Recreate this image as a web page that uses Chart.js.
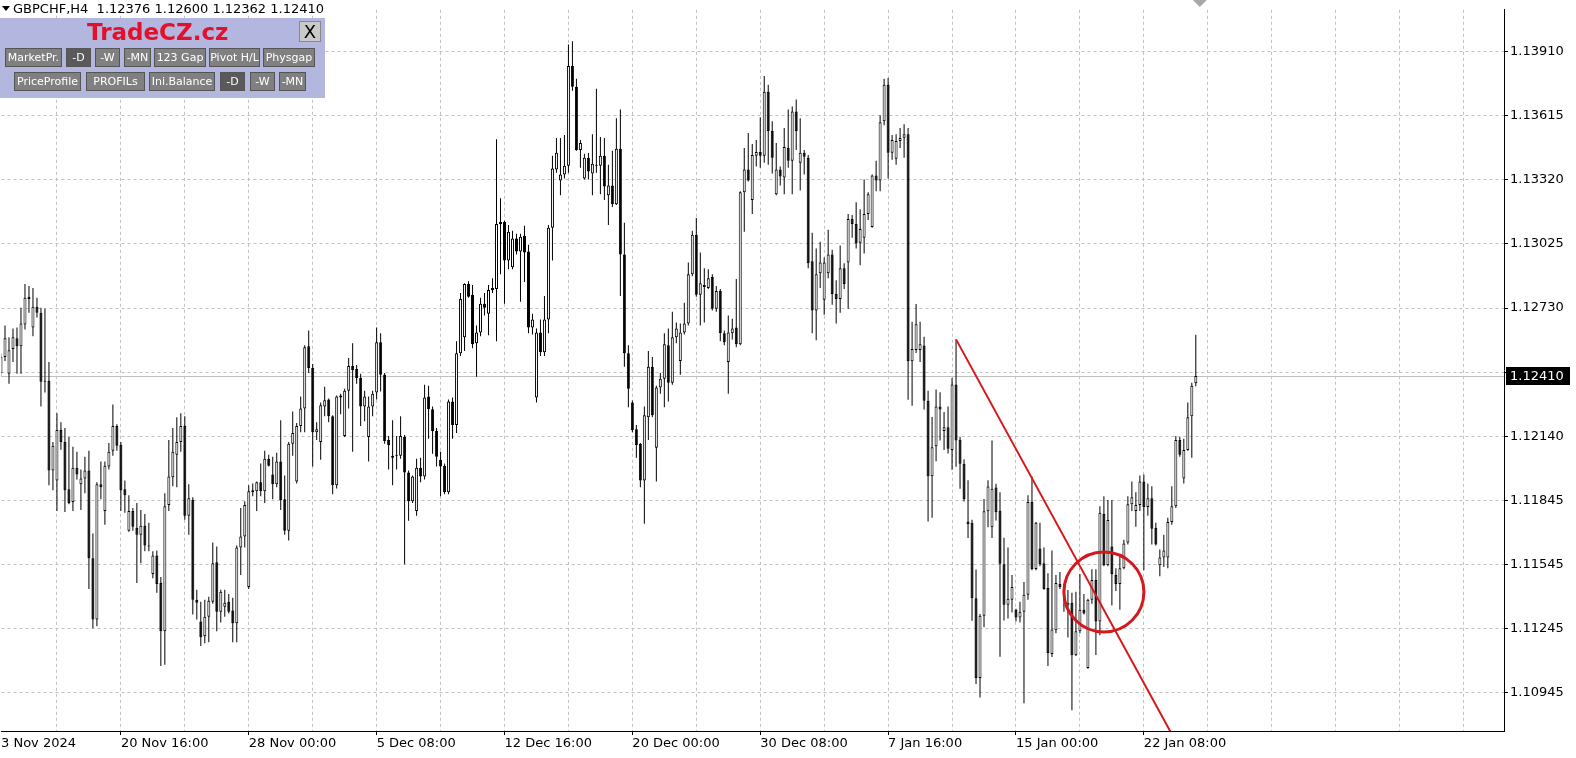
<!DOCTYPE html>
<html lang="en">
<head>
<meta charset="UTF-8">
<title>GBPCHF,H4</title>
<script src="https://cdn.jsdelivr.net/npm/chart.js"></script>
<style>
    body { margin: 0; background: #fff; overflow: hidden; font-family: "DejaVu Sans", sans-serif; }
    #wrap { position: relative; width: 1576px; height: 758px; }
    #chart { position: absolute; left: 0; top: 0; }
    #header { position: absolute; left: 13px; top: 1px; font-size: 13px; color: #000; white-space: pre; }
    #tri { position: absolute; left: 2px; top: 6px; width: 0; height: 0;
           border-left: 4px solid transparent; border-right: 4px solid transparent; border-top: 5px solid #000; }
    #panel { position: absolute; left: 0; top: 18px; width: 325px; height: 80px; background: #b3b7df; }
    #brand { position: absolute; left: 87px; top: 1px; color: #e3102c; font: bold 23px "DejaVu Sans", sans-serif; }
    #close { position: absolute; left: 299px; top: 3px; width: 22px; height: 21px; background: #c9c9c9;
             border: 1px solid #888; font: 18px "DejaVu Sans", sans-serif; text-align: center; line-height: 19px; box-sizing: border-box; }
    .btn { position: absolute; height: 19px; background: #808080; color: #fff; font-size: 11px; line-height: 17px;
           text-align: center; border: 1px solid #555; box-sizing: border-box; white-space: nowrap; }
    .dark { background: #5a5a5a; }
</style>
</head>
<body>
<div id="wrap">
    <canvas id="chart" width="1576" height="758"></canvas>
    <div id="tri"></div>
    <div id="header">GBPCHF,H4  1.12376 1.12600 1.12362 1.12410</div>
    <div id="panel">
        <div id="brand">TradeCZ.cz</div>
        <div id="close">X</div>
        <div class="btn" style="left:5px;top:30px;width:57px">MarketPr.</div>
        <div class="btn dark" style="left:66px;top:30px;width:25px">-D</div>
        <div class="btn" style="left:95px;top:30px;width:25px">-W</div>
        <div class="btn" style="left:124px;top:30px;width:27px">-MN</div>
        <div class="btn" style="left:154px;top:30px;width:52px">123 Gap</div>
        <div class="btn" style="left:209px;top:30px;width:51px">Pivot H/L</div>
        <div class="btn" style="left:263px;top:30px;width:52px">Physgap</div>
        <div class="btn" style="left:14px;top:54px;width:67px">PriceProfile</div>
        <div class="btn" style="left:86px;top:54px;width:59px">PROFILs</div>
        <div class="btn" style="left:149px;top:54px;width:66px">Ini.Balance</div>
        <div class="btn dark" style="left:220px;top:54px;width:25px">-D</div>
        <div class="btn" style="left:250px;top:54px;width:25px">-W</div>
        <div class="btn" style="left:279px;top:54px;width:27px">-MN</div>
    </div>
</div>

<script>
    // GBPCHF H4 bars (oldest first)
    const opens = [
        1.12424,1.12497,1.12420,1.12534,1.12584,1.12547,1.12648,1.12776,1.12634,1.12730,
        1.12702,1.12388,1.12388,1.11973,1.11927,1.12160,1.12105,1.11886,1.11827,1.11986,
        1.11909,1.11936,1.11973,1.11567,1.11284,1.11909,1.11786,1.11991,1.12064,1.12178,
        1.12091,1.11886,1.11694,1.11786,1.11708,1.11676,1.11717,1.11626,1.11494,1.11580,
        1.11452,1.11229,1.11813,1.11941,1.12046,1.12105,1.12178,1.11763,1.11836,1.11375,
        1.11275,1.11206,1.11297,1.11366,1.11548,1.11320,1.11343,1.11366,1.11325,1.11266,
        1.11617,1.11667,1.11434,1.11881,1.11877,1.11918,1.11877,1.12027,1.11954,1.11909,
        1.12014,1.11840,1.11694,1.12096,1.11922,1.12178,1.12260,1.12547,1.12447,1.12150,
        1.12105,1.12269,1.12301,1.12224,1.11904,1.12310,1.12132,1.12342,1.12456,1.12442,
        1.12401,1.12269,1.12128,1.12269,1.12333,1.12566,1.12415,1.12114,1.12032,1.12046,
        1.12041,1.12128,1.11963,1.11831,1.11786,1.11986,1.11945,1.12315,1.12256,1.12155,
        1.12023,1.11995,1.11872,1.12292,1.12183,1.12515,1.12589,1.12835,1.12785,1.12561,
        1.12611,1.12744,1.12698,1.12807,1.12812,1.13122,1.13122,1.12944,1.12912,1.13045,
        1.12985,1.13058,1.12985,1.12634,1.12310,1.12611,1.12520,1.12671,1.13095,1.13364,
        1.13314,1.13341,1.13382,1.13843,1.13747,1.13455,1.13323,1.13419,1.13346,1.13387,
        1.13382,1.13428,1.13245,1.13291,1.13204,1.13460,1.12972,1.12515,1.12287,1.12164,
        1.12096,1.11927,1.12219,1.12452,1.12078,1.12356,1.12397,1.12552,1.12379,1.12589,
        1.12479,1.12611,1.12652,1.12880,1.13063,1.12785,1.12830,1.12817,1.12867,1.12721,
        1.12803,1.12607,1.12474,1.12607,1.12634,1.12556,1.13259,1.13364,1.13223,1.13428,
        1.13446,1.13428,1.13724,1.13542,1.13250,1.13364,1.13327,1.13464,1.13405,1.13633,
        1.13396,1.13442,1.13419,1.12940,1.12712,1.12885,1.12762,1.12885,1.12972,1.12789,
        1.12766,1.12908,1.12935,1.13136,1.13113,1.13026,1.13049,1.13159,1.13099,1.13337,
        1.13314,1.13588,1.13756,1.13442,1.13414,1.13496,1.13511,1.13528,1.12478,1.12530,
        1.12530,1.12551,1.12295,1.11946,1.12085,1.12269,1.12155,1.12173,1.12068,1.12370,
        1.12115,1.12004,1.11737,1.11731,1.11382,1.11013,1.11301,1.11784,1.11710,1.11894,
        1.11787,1.11539,1.11352,1.11375,1.11329,1.11293,1.11320,1.11398,1.11827,1.11517,
        1.11612,1.11544,1.11430,1.11124,1.11234,1.11448,1.11352,1.11348,1.11361,1.11119,
        1.11229,1.11329,1.11060,1.11375,1.11466,1.11275,1.11772,1.11535,1.11621,1.11489,
        1.11448,1.11521,1.11640,1.11817,1.11786,1.11813,1.11922,1.11804,1.11845,1.11708,
        1.11535,1.11571,1.11571,1.11735,1.11808,1.12114,1.11936,1.12068,1.12224,1.12376
    ];
    const highs = [
        1.12515,1.12643,1.12589,1.12629,1.12634,1.12725,1.12835,1.12826,1.12817,1.12771,
        1.12725,1.12721,1.12474,1.12105,1.12237,1.12196,1.12169,1.12128,1.12082,1.12059,
        1.11977,1.12036,1.12064,1.11681,1.11918,1.12014,1.12014,1.12100,1.12278,1.12187,
        1.12105,1.11927,1.11858,1.11799,1.11822,1.11790,1.11772,1.11731,1.11599,1.11603,
        1.11480,1.11868,1.12114,1.12169,1.12219,1.12237,1.12224,1.11909,1.11849,1.11421,
        1.11366,1.11375,1.11389,1.11640,1.11621,1.11421,1.11421,1.11402,1.11384,1.11626,
        1.11799,1.11831,1.11904,1.11913,1.11922,1.12005,1.12064,1.12046,1.12036,1.12055,
        1.12205,1.11950,1.12105,1.12246,1.12192,1.12315,1.12552,1.12620,1.12465,1.12196,
        1.12287,1.12360,1.12306,1.12228,1.12319,1.12328,1.12351,1.12493,1.12561,1.12461,
        1.12420,1.12342,1.12315,1.12342,1.12634,1.12607,1.12424,1.12132,1.12205,1.12132,
        1.12224,1.12137,1.11973,1.11950,1.12027,1.12032,1.12369,1.12365,1.12269,1.12169,
        1.12059,1.12005,1.12301,1.12310,1.12570,1.12794,1.12839,1.12848,1.12830,1.12643,
        1.12771,1.12794,1.12830,1.12862,1.13505,1.13232,1.13127,1.13108,1.13081,1.13067,
        1.13067,1.13104,1.13017,1.12698,1.12629,1.12671,1.12780,1.13108,1.13428,1.13510,
        1.13510,1.13524,1.13943,1.13957,1.13784,1.13501,1.13437,1.13441,1.13528,1.13738,
        1.13515,1.13510,1.13387,1.13451,1.13601,1.13642,1.13118,1.12552,1.12296,1.12183,
        1.12100,1.12269,1.12525,1.12497,1.12365,1.12424,1.12607,1.12629,1.12707,1.12657,
        1.12652,1.12748,1.12935,1.13081,1.13140,1.12981,1.12908,1.12903,1.12880,1.12826,
        1.12812,1.12620,1.12689,1.12675,1.12858,1.13264,1.13464,1.13533,1.13483,1.13501,
        1.13606,1.13797,1.13756,1.13588,1.13487,1.13378,1.13556,1.13642,1.13656,1.13688,
        1.13601,1.13455,1.13432,1.13072,1.12999,1.13031,1.12958,1.13086,1.12994,1.12853,
        1.13013,1.12931,1.13159,1.13154,1.13213,1.13181,1.13318,1.13259,1.13341,1.13405,
        1.13615,1.13784,1.13788,1.13524,1.13528,1.13556,1.13574,1.13556,1.12661,1.12743,
        1.12661,1.12591,1.12342,1.12220,1.12347,1.12335,1.12243,1.12269,1.12400,1.12579,
        1.12129,1.12025,1.11928,1.11745,1.11515,1.11309,1.11841,1.11928,1.12112,1.11911,
        1.11872,1.11662,1.11617,1.11489,1.11334,1.11366,1.11457,1.11858,1.11945,1.11735,
        1.11731,1.11617,1.11498,1.11603,1.11489,1.11503,1.11412,1.11420,1.11407,1.11412,
        1.11494,1.11402,1.11380,1.11516,1.11516,1.11808,1.11854,1.11836,1.11836,1.11521,
        1.11580,1.11653,1.11854,1.11922,1.11872,1.11950,1.11954,1.11913,1.11900,1.11731,
        1.11608,1.11676,1.11754,1.11900,1.12132,1.12128,1.12119,1.12287,1.12379,1.12600
    ];
    const lows = [
        1.12406,1.12479,1.12374,1.12474,1.12420,1.12420,1.12625,1.12702,1.12593,1.12680,
        1.12269,1.12333,1.11904,1.11881,1.11786,1.12069,1.11781,1.11817,1.11786,1.11931,
        1.11790,1.11868,1.11425,1.11243,1.11252,1.11840,1.11722,1.11977,1.12041,1.12064,
        1.11786,1.11777,1.11690,1.11694,1.11452,1.11544,1.11599,1.11599,1.11475,1.11407,
        1.11069,1.11074,1.11786,1.11900,1.11895,1.12059,1.11745,1.11676,1.11307,1.11284,
        1.11161,1.11174,1.11179,1.11357,1.11229,1.11270,1.11297,1.11311,1.11179,1.11179,
        1.11489,1.11617,1.11425,1.11854,1.11786,1.11854,1.11822,1.11991,1.11840,1.11895,
        1.11790,1.11676,1.11649,1.12041,1.11913,1.12150,1.12150,1.12424,1.11991,1.12114,
        1.12023,1.12224,1.12196,1.11863,1.11890,1.12233,1.12128,1.12260,1.12059,1.12374,
        1.12178,1.12201,1.12014,1.12224,1.12301,1.12338,1.12096,1.11977,1.11904,1.11977,
        1.12027,1.11539,1.11740,1.11822,1.11763,1.11918,1.11931,1.12119,1.12050,1.11991,
        1.11854,1.11863,1.11863,1.12119,1.12146,1.12502,1.12525,1.12771,1.12538,1.12406,
        1.12593,1.12689,1.12598,1.12794,1.12570,1.12880,1.12744,1.12903,1.12903,1.12972,
        1.12753,1.12844,1.12607,1.12602,1.12287,1.12502,1.12502,1.12607,1.12944,1.13350,
        1.13245,1.13323,1.13350,1.13729,1.13451,1.13373,1.13318,1.13318,1.13245,1.13350,
        1.13250,1.13223,1.13108,1.13191,1.13200,1.12780,1.12452,1.12265,1.12150,1.12032,
        1.11895,1.11726,1.12114,1.12219,1.11922,1.12328,1.12265,1.12292,1.12369,1.12561,
        1.12415,1.12602,1.12643,1.12871,1.12776,1.12643,1.12657,1.12812,1.12712,1.12707,
        1.12570,1.12552,1.12328,1.12579,1.12543,1.12552,1.13077,1.13309,1.13159,1.13378,
        1.13373,1.13396,1.13387,1.13346,1.13245,1.13291,1.13250,1.13373,1.13250,1.13455,
        1.13268,1.13341,1.12908,1.12607,1.12575,1.12817,1.12693,1.12862,1.12739,1.12652,
        1.12702,1.12812,1.12721,1.13049,1.12999,1.12922,1.12976,1.13131,1.13095,1.13264,
        1.13264,1.13569,1.13323,1.13410,1.13387,1.13464,1.13419,1.12300,1.12272,1.12516,
        1.12474,1.12255,1.11737,1.11754,1.12016,1.12112,1.12068,1.12051,1.11976,1.11990,
        1.11888,1.11829,1.11661,1.11278,1.10986,1.10923,1.11248,1.11710,1.11661,1.11742,
        1.11112,1.11279,1.11288,1.11316,1.11275,1.11270,1.10896,1.11375,1.11512,1.11512,
        1.11530,1.11421,1.11069,1.11110,1.11220,1.11425,1.11320,1.11200,1.10864,1.11115,
        1.11220,1.11307,1.11056,1.11357,1.11120,1.11211,1.11530,1.11530,1.11348,1.11416,
        1.11329,1.11516,1.11630,1.11786,1.11713,1.11786,1.11512,1.11763,1.11630,1.11626,
        1.11484,1.11526,1.11521,1.11722,1.11799,1.12036,1.11913,1.12064,1.12032,1.12362
    ];
    const closes = [
        1.12497,1.12584,1.12529,1.12589,1.12547,1.12652,1.12771,1.12766,1.12730,1.12702,
        1.12383,1.12383,1.11973,1.12087,1.12160,1.12105,1.11881,1.11822,1.11986,1.11954,
        1.11936,1.11973,1.11567,1.11284,1.11909,1.11895,1.11995,1.12059,1.12178,1.12087,
        1.11881,1.11858,1.11786,1.11713,1.11676,1.11717,1.11626,1.11621,1.11580,1.11448,
        1.11229,1.11808,1.11945,1.12059,1.12105,1.12178,1.11763,1.11845,1.11375,1.11361,
        1.11202,1.11297,1.11371,1.11544,1.11320,1.11412,1.11361,1.11320,1.11266,1.11617,
        1.11667,1.11813,1.11877,1.11872,1.11918,1.11877,1.12027,1.11995,1.11909,1.12014,
        1.11836,1.11694,1.12096,1.12146,1.12178,1.12260,1.12543,1.12447,1.12150,1.12164,
        1.12274,1.12297,1.12224,1.11904,1.12315,1.12319,1.12342,1.12456,1.12438,1.12401,
        1.12269,1.12315,1.12269,1.12328,1.12566,1.12415,1.12109,1.12091,1.12041,1.12041,
        1.12132,1.11963,1.11831,1.11945,1.11986,1.11945,1.12310,1.12256,1.12155,1.12036,
        1.11991,1.11872,1.12292,1.12183,1.12515,1.12766,1.12835,1.12776,1.12556,1.12611,
        1.12744,1.12725,1.12807,1.12817,1.13113,1.13113,1.12944,1.13077,1.13045,1.12985,
        1.13054,1.12981,1.12634,1.12671,1.12611,1.12520,1.12671,1.13095,1.13369,1.13442,
        1.13341,1.13382,1.13843,1.13747,1.13455,1.13487,1.13419,1.13355,1.13391,1.13382,
        1.13428,1.13286,1.13291,1.13204,1.13460,1.12972,1.12515,1.12351,1.12160,1.12091,
        1.11927,1.12228,1.12452,1.12228,1.12356,1.12397,1.12556,1.12379,1.12589,1.12629,
        1.12611,1.12652,1.12880,1.13063,1.12785,1.12839,1.12821,1.12862,1.12721,1.12803,
        1.12607,1.12566,1.12611,1.12629,1.12556,1.13259,1.13364,1.13314,1.13432,1.13446,
        1.13428,1.13724,1.13542,1.13419,1.13364,1.13332,1.13469,1.13405,1.13633,1.13542,
        1.13442,1.13423,1.12931,1.12712,1.12880,1.12935,1.12935,1.12972,1.12789,1.12766,
        1.12908,1.12835,1.13136,1.13113,1.13022,1.13090,1.13159,1.13250,1.13337,1.13314,
        1.13583,1.13756,1.13442,1.13501,1.13496,1.13510,1.13528,1.12478,1.12534,1.12649,
        1.12556,1.12295,1.11946,1.12080,1.12269,1.12255,1.12173,1.12073,1.12370,1.12112,
        1.12004,1.11841,1.11724,1.11382,1.11013,1.11301,1.11784,1.11899,1.11888,1.11780,
        1.11541,1.11352,1.11380,1.11434,1.11293,1.11320,1.11398,1.11827,1.11517,1.11731,
        1.11539,1.11425,1.11129,1.11238,1.11453,1.11434,1.11348,1.11361,1.11119,1.11229,
        1.11329,1.11311,1.11375,1.11466,1.11275,1.11777,1.11535,1.11744,1.11494,1.11448,
        1.11521,1.11635,1.11817,1.11849,1.11813,1.11922,1.11804,1.11845,1.11703,1.11630,
        1.11571,1.11603,1.11735,1.11808,1.12114,1.12046,1.12068,1.12219,1.12365,1.12410
    ];

    // time axis labels sit on these bar numbers
    const timeTickBar  = [0, 30, 62, 94, 126, 158, 190, 222, 254, 286];
    const timeTickText = ['3 Nov 2024', '20 Nov 16:00', '28 Nov 00:00', '5 Dec 08:00', '12 Dec 16:00',
                          '20 Dec 00:00', '30 Dec 08:00', '7 Jan 16:00', '15 Jan 00:00', '22 Jan 08:00'];
    const priceTicks = [1.13910, 1.136135, 1.13317, 1.130205, 1.12724, 1.124275,
                        1.12131, 1.118345, 1.11538, 1.112415, 1.10945];
    const priceTickText = ['1.13910', '1.13615', '1.13320', '1.13025', '1.12730', '',
                           '1.12140', '1.11845', '1.11545', '1.11245', '1.10945'];
    const lastPrice = 1.12410;

    // drawn objects (bar number, price)
    const trendA = { bar: 239, price: 1.12579 };
    const trendB = { bar: 275, price: 1.11362 };
    const ringCenter = { bar: 276, price: 1.11411 };

    const FONT = { family: 'DejaVu Sans', size: 13 };
    const GRID = '#c0c0c0';
    const RED = '#d4181c';

    const gridBars = [];
    for (let b = 14; b <= 376; b += 16) gridBars.push(b);
    const xTicks = [...new Set([...timeTickBar, ...gridBars])].sort((a, b) => a - b);

    const bodyData = opens.map((o, i) => ({ x: i, y: [o, closes[i]] }));
    const wickData = lows.map((l, i) => ({ x: i, y: [l, highs[i]] }));
    const bodyFill = opens.map((o, i) => closes[i] >= o ? '#ffffff' : '#000000');

    const overlay = {
        id: 'overlay',
        beforeDatasetsDraw(chart) {
            const { ctx, chartArea: a, scales: { y } } = chart;
            const py = Math.round(y.getPixelForValue(lastPrice)) + 0.5;
            ctx.save();
            ctx.strokeStyle = '#c0c0c0';
            ctx.lineWidth = 1;
            ctx.beginPath();
            ctx.moveTo(a.left, py);
            ctx.lineTo(a.right, py);
            ctx.stroke();
            ctx.restore();
        },
        afterDatasetsDraw(chart) {
            const { ctx, chartArea: a, scales: { x, y } } = chart;
            ctx.save();
            ctx.beginPath();
            ctx.rect(a.left, a.top, a.right - a.left, a.bottom - a.top);
            ctx.clip();
            // trend line, extended past the second anchor
            const x1 = x.getPixelForValue(trendA.bar), y1 = y.getPixelForValue(trendA.price);
            const x2 = x.getPixelForValue(trendB.bar), y2 = y.getPixelForValue(trendB.price);
            const k = (y2 - y1) / (x2 - x1);
            const xe = x1 + (a.bottom + 20 - y1) / k;
            ctx.strokeStyle = RED;
            ctx.lineWidth = 2;
            ctx.beginPath();
            ctx.moveTo(x1, y1);
            ctx.lineTo(xe, a.bottom + 20);
            ctx.stroke();
            // ring
            ctx.lineWidth = 3;
            ctx.beginPath();
            ctx.arc(x.getPixelForValue(ringCenter.bar), y.getPixelForValue(ringCenter.price), 40, 0, Math.PI * 2);
            ctx.stroke();
            ctx.restore();
        },
        afterDraw(chart) {
            const { ctx, chartArea: a, scales: { x, y } } = chart;
            const py = y.getPixelForValue(lastPrice);
            ctx.save();
            ctx.fillStyle = '#000';
            ctx.fillRect(a.right + 2, Math.round(py) - 9, 64, 18);
            ctx.fillStyle = '#fff';
            ctx.font = '13px "DejaVu Sans"';
            ctx.textBaseline = 'middle';
            ctx.fillText(lastPrice.toFixed(5), a.right + 6, Math.round(py) + 0.5);
            // chart shift marker
            const mx = x.getPixelForValue(opens.length);
            ctx.fillStyle = '#a8a8a8';
            ctx.beginPath();
            ctx.moveTo(mx - 7, 0);
            ctx.lineTo(mx + 7, 0);
            ctx.lineTo(mx, 7);
            ctx.closePath();
            ctx.fill();
            ctx.restore();
        }
    };

    new Chart(document.getElementById('chart'), {
        type: 'bar',
        data: {
            datasets: [
                { label: 'body', data: bodyData, backgroundColor: bodyFill, borderColor: '#000',
                  borderWidth: 1, borderSkipped: false, grouped: false, inflateAmount: 0,
                  barThickness: 3, maxBarThickness: 3, barPercentage: 1, categoryPercentage: 1, order: 0 },
                { label: 'wick', data: wickData, backgroundColor: '#000', borderWidth: 0,
                  grouped: false, inflateAmount: 0,
                  barThickness: 1, maxBarThickness: 1, barPercentage: 1, categoryPercentage: 1, order: 1 }
            ]
        },
        options: {
            responsive: false,
            animation: false,
            layout: { padding: 0 },
            plugins: { legend: { display: false }, tooltip: { enabled: false } },
            scales: {
                x: {
                    type: 'linear',
                    offset: false,
                    min: 0.125,
                    max: 376.125,
                    afterBuildTicks: s => { s.ticks = xTicks.map(v => ({ value: v })); },
                    afterFit: s => { s.height = 27; },
                    ticks: {
                        autoSkip: false, maxRotation: 0, minRotation: 0, align: 'start',
                        padding: 1, color: '#000', font: FONT,
                        callback: v => {
                            const j = timeTickBar.indexOf(v);
                            return j >= 0 ? timeTickText[j] : '';
                        }
                    },
                    grid: {
                        offset: false,
                        color: c => gridBars.includes(c.tick && c.tick.value) ? GRID : 'transparent',
                        tickColor: c => timeTickBar.includes(c.tick && c.tick.value) && c.tick.value > 0 ? '#000' : 'transparent',
                        tickLength: 4
                    },
                    border: { color: '#000', dash: [3, 3] }
                },
                y: {
                    type: 'linear',
                    position: 'right',
                    stacked: false,
                    min: 1.107682,
                    max: 1.14103,
                    afterBuildTicks: s => { s.ticks = priceTicks.map(v => ({ value: v })); },
                    afterFit: s => { s.width = 72; },
                    ticks: {
                        padding: 2, color: '#000', font: FONT,
                        callback: (v, i) => priceTickText[i]
                    },
                    grid: { color: GRID, tickColor: '#000', tickLength: 4 },
                    border: { color: '#000', dash: [3, 3] }
                }
            }
        },
        plugins: [overlay]
    });
</script>
</body>
</html>
